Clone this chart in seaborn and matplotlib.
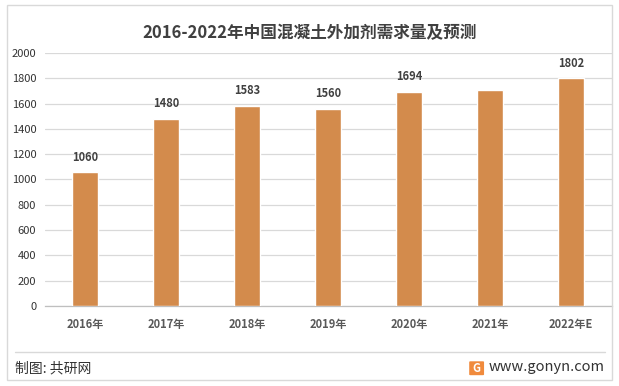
import matplotlib
matplotlib.use("Agg")
import matplotlib.pyplot as plt
import seaborn as sns
import pandas as pd
from matplotlib.patches import Rectangle, FancyBboxPatch
from matplotlib.lines import Line2D

# Data
years = ["2016年", "2017年", "2018年", "2019年", "2020年", "2021年", "2022年E"]
demand = [1060, 1480, 1583, 1560, 1694, 1710, 1802]
show_label = [True, True, True, True, True, False, True]
yticks = list(range(0, 2001, 200))

df = pd.DataFrame({"year": years, "demand": demand})

sns.set_theme(style="white")
plt.rcParams["font.family"] = ["Noto Sans CJK SC", "DejaVu Sans"]

bar_color = "#D38B4C"
grid_color = "#D9D9D9"
text_dark = "#404040"

fig = plt.figure(figsize=(6.19, 3.86), dpi=100)
ax = fig.add_axes([0.072, 0.2073, 0.916, 0.6554])

sns.barplot(data=df, x="year", y="demand", color=bar_color, width=0.32,
            saturation=1, ax=ax, zorder=3)

ax.set_ylim(0, 2000)
ax.set_xlim(-0.5, len(years) - 0.5)
ax.set_yticks(yticks)
ax.set_yticklabels([str(t) for t in yticks], fontsize=8, color="#333333")
ax.yaxis.grid(True, color=grid_color, linewidth=0.9, zorder=0)
ax.set_axisbelow(True)
ax.set_xlabel("")
ax.set_ylabel("")

for s in ["top", "right", "left"]:
    ax.spines[s].set_visible(False)
ax.spines["bottom"].set_color("#BFBFBF")
ax.spines["bottom"].set_linewidth(0.9)

# x ticks sit between categories, labels under the bars
ax.set_xticks([i + 0.5 for i in range(-1, len(years))], minor=True)
ax.tick_params(axis="x", which="minor", length=4, color="#BFBFBF", width=0.9, direction="out")
ax.tick_params(axis="x", which="major", length=0, pad=9)
ax.tick_params(axis="y", length=0, pad=6)
for lab in ax.get_xticklabels():
    lab.set_fontsize(8)
    lab.set_fontweight("bold")
    lab.set_color("#595959")

for i, (v, show) in enumerate(zip(demand, show_label)):
    if show:
        ax.annotate(str(v), (i, v), xytext=(0, 6), textcoords="offset points",
                    ha="center", va="bottom", fontsize=8, fontweight="bold",
                    color=text_dark)

fig.text(0.5, 0.915, "2016-2022年中国混凝土外加剂需求量及预测", ha="center", va="center",
         fontsize=12, fontweight="bold", color=text_dark)

# outer frame and footer
fig.patches.append(Rectangle((0.0113, 0.0155), 0.9774, 0.9715, transform=fig.transFigure,
                             fill=False, edgecolor=grid_color, linewidth=1.0))
fig.lines.append(Line2D([0.024, 0.977], [0.088, 0.088], transform=fig.transFigure,
                        color=grid_color, linewidth=1.0))
fig.text(0.024, 0.046, "制图: 共研网", ha="left", va="center", fontsize=10, color="#333333")
fig.text(0.977, 0.048, "www.gonyn.com", ha="right", va="center", fontsize=10.5, color="#333333")
fig.patches.append(FancyBboxPatch((0.760, 0.030), 0.020, 0.032, transform=fig.transFigure,
                                  boxstyle="round,pad=0.002", facecolor="#F08A3C",
                                  edgecolor="none"))
fig.text(0.770, 0.046, "G", ha="center", va="center", fontsize=8, fontweight="bold", color="white")

fig.savefig("out.png", dpi=100)
